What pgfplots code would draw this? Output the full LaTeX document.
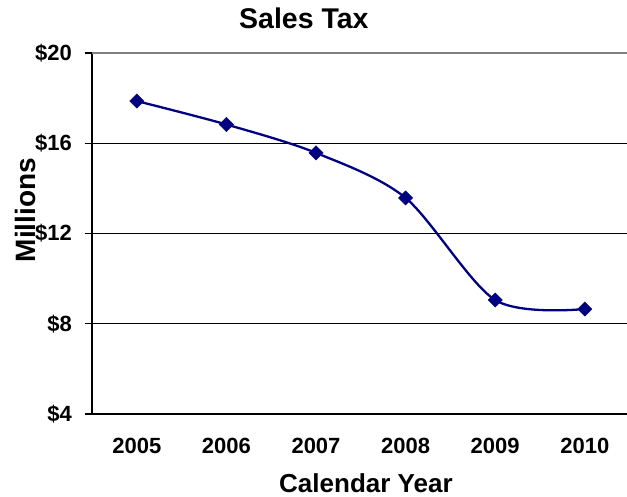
\documentclass[border=0pt]{standalone}
\usepackage{pgfplots}
\pgfplotsset{compat=1.18}
\usepackage{fontspec}
\setmainfont{Liberation Sans}
\definecolor{navyline}{RGB}{0,0,128}
\definecolor{topgray}{RGB}{128,128,128}
\begin{document}
\begin{tikzpicture}[x=1bp,y=1bp]
\begin{axis}[
  at={(92bp,83.2bp)}, anchor=south west,
  scale only axis, width=535bp, height=360.5bp,
  xmin=-0.5, xmax=5.471, ymin=4, ymax=20,
  axis x line*=bottom, axis y line*=left,
  axis line style={line width=2bp, black},
  tick align=outside,
  major tick length=7.5bp,
  tick style={black, line width=1.6bp},
  xtick={0,1,2,3,4,5},
  xticklabels={2005,2006,2007,2008,2009,2010},
  xtick style={draw=none},
  extra x ticks={-0.5,0.5,1.5,2.5,3.5,4.5},
  extra x tick labels={},
  extra x tick style={grid=none, tick style={black, line width=1.6bp}},
  ytick={4,8,12,16,20},
  yticklabels={\$4,\$8,\$12,\$16,\$20},
  ymajorgrids,
  grid style={black, line width=0.9bp},
  ticklabel style={font=\bfseries\fontsize{22bp}{24bp}\selectfont, inner sep=0pt},
  xticklabel style={anchor=north, yshift=-17bp},
  yticklabel style={anchor=east, xshift=-12.5bp},
  every axis title shift=0pt,
  title={Sales Tax},
  title style={font=\bfseries\fontsize{28.5bp}{30bp}\selectfont, at={(axis description cs:0.396,1.068)}, anchor=base, inner sep=0pt},
  xlabel={Calendar Year},
  xlabel style={font=\bfseries\fontsize{26bp}{28bp}\selectfont, at={(axis description cs:0.512,-0.2175)}, anchor=base, inner sep=0pt},
  ylabel={Millions},
  ylabel style={font=\bfseries\fontsize{28bp}{30bp}\selectfont, at={(axis description cs:-0.1065,0.565)}, anchor=base, inner sep=0pt},
  clip=false,
]
\draw[topgray, line width=2bp] (rel axis cs:0,1) -- (rel axis cs:1,1);
\addplot[navyline, line width=2.3bp, smooth, tension=0.5,
  mark=square*, mark size=5bp, mark options={rotate=45, fill=navyline, draw=navyline, line width=0.5bp}]
  coordinates {(0,17.88) (1,16.84) (2,15.58) (3,13.58) (4,9.05) (5,8.65)};
\end{axis}
\pgfresetboundingbox
\useasboundingbox (0,0) rectangle (627,497);
\end{tikzpicture}
\end{document}
